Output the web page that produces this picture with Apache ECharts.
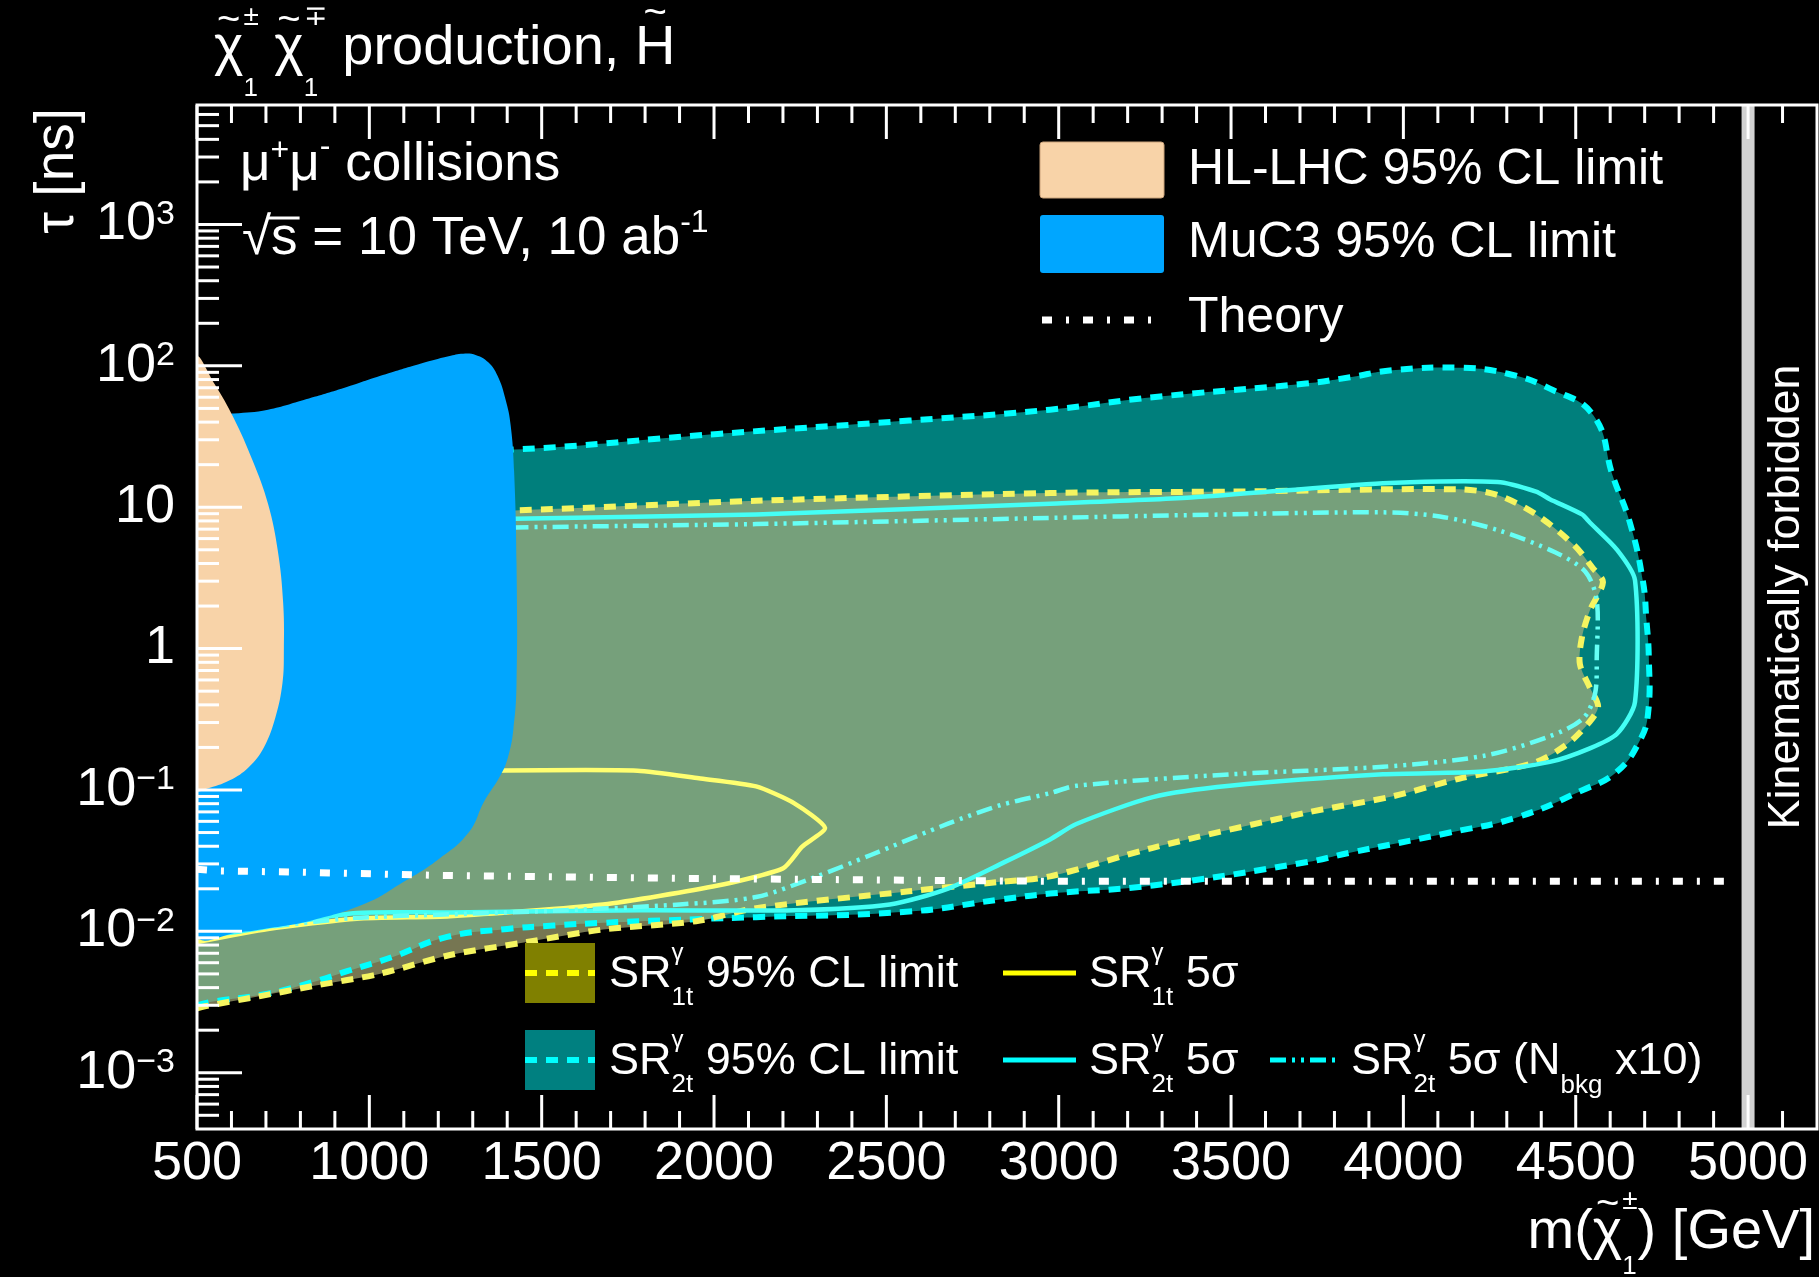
<!DOCTYPE html>
<html>
<head>
<meta charset="utf-8">
<title>chargino lifetime reach</title>
<script src="https://cdn.jsdelivr.net/npm/echarts@6/dist/echarts.min.js"></script>
<style>
  html, body { margin: 0; padding: 0; background: #000; }
  #chart { width: 1819px; height: 1277px; }
</style>
</head>
<body>
<div id="chart"></div>
<script>
var FF = '"Liberation Sans", Arial, Helvetica, sans-serif';
var X_MIN = 500, X_MAX = 5200, Y_MIN = 4e-4, Y_MAX = 7000;

// axis ticks
var xMajor = [500, 1000, 1500, 2000, 2500, 3000, 3500, 4000, 4500, 5000];
var yMajor = [1e-3, 1e-2, 1e-1, 1, 10, 100, 1000];

// contours: [mass GeV, tau ns]
var hlLhc = [[500,112],[550,75],[606,43],[661,21.5],[706,10.6],[734,5],[750,2.1],[752,0.97],
  [748,0.57],[728,0.33],[694,0.2],[650,0.145],[595,0.117],[528,0.102],[500,0.1]];

var muC3 = [[500,44],[606,46],[706,49],[816,58],[928,70],[1039,86],[1150,104],[1230,117],
  [1272,122],[1310,119],[1345,106],[1372,85],[1395,58],[1410,38],[1420,18],[1427,4],
  [1427,0.57],[1418,0.27],[1402,0.17],[1379,0.125],[1333,0.083],[1288,0.05],[1198,0.032],
  [1094,0.022],[990,0.0158],[835,0.012],[706,0.0105],[628,0.0099],[500,0.0098]];

var sr2tLimit = [[500,0.0030],[538,0.00316],[706,0.00363],[835,0.00437],[938,0.00525],
  [1068,0.0066],[1223,0.0091],[1400,0.0104],[1535,0.0110],[1678,0.0115],[1948,0.0122],
  [2122,0.0126],[2566,0.0138],[2830,0.0168],[2975,0.0185],[3273,0.0211],[3717,0.0308],
  [3845,0.036],[4135,0.050],[4329,0.064],[4521,0.100],[4620,0.135],[4686,0.224],[4710,0.35],
  [4712,0.88],[4705,1.6],[4695,3.0],[4657,7.8],[4608,16.5],[4551,44.7],[4425,69],[4303,88],
  [4164,97],[3967,93],[3845,83],[3717,75],[3273,60],[2975,49],[2566,41],[2011,33],
  [1422,25.6],[1000,24.5],[500,24]];

var sr1tLimit = [[500,0.00285],[523,0.00295],[680,0.00347],[835,0.0041],[1029,0.0050],
  [1234,0.0068],[1457,0.0084],[1678,0.0103],[1948,0.0118],[2122,0.0146],[2566,0.0192],
  [2830,0.0224],[2975,0.0245],[3273,0.039],[3717,0.069],[3967,0.09],[4161,0.12],[4376,0.155],
  [4474,0.21],[4541,0.305],[4565,0.39],[4541,0.53],[4512,0.78],[4518,1.2],[4541,1.86],
  [4579,2.95],[4550,3.7],[4495,5.4],[4385,8.9],[4273,12.2],[4161,13.4],[3496,12.9],
  [2975,12.6],[2122,11.1],[1422,9.5],[1000,9.2],[500,9]];

var sr1t5sigma = [[500,0.0084],[706,0.0104],[964,0.0123],[1234,0.0128],[1678,0.0155],
  [2011,0.0211],[2200,0.0279],[2255,0.0396],[2322,0.054],[2233,0.0805],[2122,0.106],
  [1956,0.121],[1778,0.137],[1350,0.137]];

var sr2t5sigma = [[1300,8.2],[1422,8.3],[2122,8.9],[2975,10.6],[3384,11.7],[3941,14.8],
  [4273,15.1],[4385,12.9],[4425,11.4],[4518,8.9],[4541,7.8],[4620,5.0],[4672,3.05],
  [4672,0.42],[4620,0.25],[4541,0.197],[4425,0.158],[4231,0.135],[3941,0.129],[3496,0.107],
  [3273,0.089],[3051,0.0575],[2975,0.0447],[2844,0.031],[2677,0.020],[2510,0.0155],
  [2232,0.0141],[1788,0.0141],[1234,0.0136],[964,0.0135],[770,0.0115],[628,0.0100],[500,0.0092]];

var sr2t5sigmaBkg = [[1300,7.1],[1422,7.2],[2122,7.6],[2975,8.4],[3384,8.8],[3941,9.2],
  [4106,8.6],[4273,6.9],[4440,4.8],[4528,3.5],[4561,2.2],[4561,0.88],[4556,0.48],[4521,0.32],
  [4425,0.24],[4231,0.174],[3941,0.146],[3496,0.129],[3051,0.107],[2975,0.095],[2830,0.078],
  [2677,0.0575],[2455,0.0347],[2289,0.024],[2122,0.0175],[1900,0.0155],[1568,0.0141],
  [1234,0.0132],[950,0.0124],[700,0.0107]];

var theory = [[500,0.0275],[560,0.0268],[800,0.0262],[1200,0.0249],[1900,0.0237],
  [2975,0.0226],[4970,0.0226]];

var xMinor = [], yMinor = [];
for (var v = 600; v <= 5100; v += 100) if (v % 500) xMinor.push(v);
for (var e = -4; e <= 3; e++) {
  for (var k = 2; k <= 9; k++) {
    var t = k * Math.pow(10, e);
    if (t > Y_MIN * 1.0001 && t < Y_MAX * 0.9999) yMinor.push(t);
  }
}

// text measuring
var mctx = document.createElement('canvas').getContext('2d');
function tw(t, s) { mctx.font = s + 'px ' + FF; return mctx.measureText(t).width; }

function txt(t, x, y, s, opt) {
  opt = opt || {};
  return {
    type: 'text', x: x, y: y, z: 100, rotation: opt.rot || 0,
    style: { text: t, fontSize: s, fontFamily: FF, fill: opt.color || '#fff',
      align: opt.align || 'left', verticalAlign: 'middle' }
  };
}

// segs: [text, size, dy, mode]   mode: 'sup' | 'sub' | 'over'
function rich(x, base, segs) {
  var els = [], cx = x, pS = x, pW = 0, supX = null, supW = 0;
  segs.forEach(function (g) {
    var s = g[1], dy = g[2] || 0, mode = g[3], w = tw(g[0], s), px;
    if (mode === 'over') {
      px = pS + (pW - w) / 2;
    } else if (mode === 'sup') {
      px = cx; supX = cx; supW = w;
    } else if (mode === 'sub') {
      px = supX !== null ? supX : cx;
      cx = px + Math.max(w, supX !== null ? supW : 0);
      supX = null; supW = 0;
    } else {
      if (supX !== null) { cx = supX + supW; supX = null; supW = 0; }
      px = cx; pS = px; pW = w; cx = px + w;
    }
    els.push(txt(g[0], px, base + dy - 0.35 * s, s));
  });
  if (supX !== null) cx = supX + supW;
  return { els: els, width: cx - x };
}
function richW(segs) { return rich(0, 0, segs).width; }

function area(name, pts, color, z, smooth) {
  return {
    type: 'custom', name: name, data: pts, z: z, silent: true, clip: true,
    renderItem: function (params, api) {
      if (params.dataIndex !== 0) return null;
      var p = pts.map(function (d) { return api.coord(d); });
      return { type: 'polygon', shape: { points: p, smooth: smooth }, style: { fill: color } };
    }
  };
}
function curve(name, pts, color, width, dash, z, smooth) {
  return {
    type: 'custom', name: name, data: pts, z: z, silent: true, clip: true,
    renderItem: function (params, api) {
      if (params.dataIndex !== 0) return null;
      var p = pts.map(function (d) { return api.coord(d); });
      return { type: 'polyline', shape: { points: p, smooth: smooth },
        style: { stroke: color, lineWidth: width, lineDash: dash, fill: null } };
    }
  };
}

var frameSeries = {
  type: 'custom', name: 'frame', data: [[X_MIN, 1]], z: 20, silent: true, clip: false,
  renderItem: function (params, api) {
    var cs = params.coordSys;
    var L = cs.x, T = cs.y, R = cs.x + cs.width, B = cs.y + cs.height;
    var ch = [];
    function ln(x1, y1, x2, y2, c, w) {
      ch.push({ type: 'line', shape: { x1: x1, y1: y1, x2: x2, y2: y2 },
        style: { stroke: c || '#fff', lineWidth: w || 3 } });
    }
    var xb = api.coord([5000, Y_MIN])[0];
    ln(xb, T, xb, B, '#d2d2d2', 13);
    xMajor.forEach(function (v) { var x = api.coord([v, Y_MIN])[0]; ln(x, B, x, B - 34); ln(x, T, x, T + 34); });
    xMinor.forEach(function (v) { var x = api.coord([v, Y_MIN])[0]; ln(x, B, x, B - 18); ln(x, T, x, T + 18); });
    yMajor.forEach(function (v) { var y = api.coord([X_MIN, v])[1]; ln(L, y, L + 45, y); });
    yMinor.forEach(function (v) { var y = api.coord([X_MIN, v])[1]; ln(L, y, L + 22, y); });
    ch.push({ type: 'rect', shape: { x: L, y: T, width: R - L, height: B - T },
      style: { fill: null, stroke: '#fff', lineWidth: 3 } });
    return { type: 'group', children: ch };
  }
};

// ---- texts ----
var g = [];
function add(r) { g = g.concat(r.els); }

add(rich(214, 68, [['χ',56],['~',40,-33,'over'],['±',28,-41,'sup'],['1',26,30,'sub'],[' ',56],
  ['χ',56],['~',40,-33,'over'],['∓',28,-41,'sup'],['1',26,30,'sub'],[' production, ',56],
  ['H',56],['~',40,-40,'over']]));
add(rich(240, 184, [['μ',53],['+',32,-22,'sup'],['μ',53],['-',32,-26,'sup'],[' collisions',53]]));
add(rich(242, 258, [['√',53],['s',53],[' = 10 TeV, 10 ab',53],['-1',32,-24,'sup']]));
var sqX = 242 + tw('√', 53);
g.push({ type: 'line', z: 100, shape: { x1: sqX - 3, y1: 218, x2: sqX + tw('s', 53) + 2, y2: 218 },
  style: { stroke: '#fff', lineWidth: 3 } });

// axis titles
g.push(txt('τ [ns]', 58, 108, 55, { rot: Math.PI / 2, align: 'right' }));
var xTitle = [['m(',56],['χ',56],['~',40,-33,'over'],['±',28,-41,'sup'],['1',26,24,'sub'],[') [GeV]',56]];
add(rich(1815 - richW(xTitle), 1252, xTitle));
g.push(txt('Kinematically forbidden', 1787, 597, 45, { rot: Math.PI / 2, align: 'center' }));

// top legend
g.push({ type: 'rect', z: 100, shape: { x: 1040, y: 142, width: 124, height: 56, r: 3 },
  style: { fill: '#f8d3a8', stroke: '#c9a27a', lineWidth: 1 } });
g.push({ type: 'rect', z: 100, shape: { x: 1040, y: 215, width: 124, height: 58, r: 3 },
  style: { fill: '#00a6ff' } });
g.push({ type: 'line', z: 100, shape: { x1: 1042, y1: 320, x2: 1154, y2: 320 },
  style: { stroke: '#fff', lineWidth: 7, lineDash: [10, 14, 3, 14] } });
g.push(txt('HL-LHC 95% CL limit', 1188, 187 - 17, 50));
g.push(txt('MuC3 95% CL limit', 1188, 260 - 17, 50));
g.push(txt('Theory', 1188, 335 - 17, 50));

// bottom legend
g.push({ type: 'rect', z: 100, shape: { x: 525, y: 943, width: 70, height: 60 }, style: { fill: '#808000' } });
g.push({ type: 'line', z: 101, shape: { x1: 525, y1: 973, x2: 595, y2: 973 },
  style: { stroke: '#ffff00', lineWidth: 6, lineDash: [12, 9] } });
g.push({ type: 'rect', z: 100, shape: { x: 525, y: 1030, width: 70, height: 60 }, style: { fill: '#008080' } });
g.push({ type: 'line', z: 101, shape: { x1: 525, y1: 1060, x2: 595, y2: 1060 },
  style: { stroke: '#00ffff', lineWidth: 6, lineDash: [12, 9] } });
g.push({ type: 'line', z: 100, shape: { x1: 1003, y1: 973, x2: 1076, y2: 973 },
  style: { stroke: '#ffff00', lineWidth: 5 } });
g.push({ type: 'line', z: 100, shape: { x1: 1003, y1: 1060, x2: 1076, y2: 1060 },
  style: { stroke: '#00ffff', lineWidth: 5 } });
g.push({ type: 'line', z: 100, shape: { x1: 1270, y1: 1060, x2: 1341, y2: 1060 },
  style: { stroke: '#00ffff', lineWidth: 5, lineDash: [16, 6, 3, 6, 3, 6] } });

function sr(tag) { return [['SR',45],['γ',24,-28,'sup'],[tag,26,17,'sub']]; }
add(rich(609, 990, sr('1t').concat([[' 95% CL limit',45]])));
add(rich(1089, 990, sr('1t').concat([[' 5σ',45]])));
add(rich(609, 1077, sr('2t').concat([[' 95% CL limit',45]])));
add(rich(1089, 1077, sr('2t').concat([[' 5σ',45]])));
add(rich(1351, 1077, sr('2t').concat([[' 5σ (N',45],['bkg',26,18,'sub'],[' x10)',45]])));

function yLabel(v) {
  var l = Math.log10(v), n = Math.round(l);
  if (Math.abs(l - n) > 1e-6) return '';
  if (n === 0) return '1';
  if (n === 1) return '10';
  return '10{s|' + (n < 0 ? '−' + (-n) : n) + '}';
}

var option = {
  backgroundColor: '#000',
  animation: false,
  grid: { left: 197, top: 105, width: 1620, height: 1024, show: false },
  xAxis: {
    type: 'value', min: X_MIN, max: X_MAX, interval: 500,
    axisLine: { show: false }, axisTick: { show: false }, splitLine: { show: false },
    axisLabel: { color: '#fff', fontSize: 54, fontFamily: FF, margin: 8, showMaxLabel: false,
      formatter: function (v) { return v > 5000 ? '' : String(v); } }
  },
  yAxis: {
    type: 'log', logBase: 10, min: Y_MIN, max: Y_MAX,
    axisLine: { show: false }, axisTick: { show: false }, splitLine: { show: false },
    axisLabel: { color: '#fff', fontSize: 54, fontFamily: FF, margin: 22, lineHeight: 54,
      showMinLabel: false, showMaxLabel: false, formatter: yLabel,
      rich: { s: { fontSize: 34, fontFamily: FF, color: '#fff', verticalAlign: 'top', lineHeight: 34 } } }
  },
  graphic: { elements: g },
  series: [
    area('SR2t 95% CL limit', sr2tLimit, '#007f7c', 1, 0.45),
    area('SR1t 95% CL limit', sr1tLimit, 'rgba(176,176,122,0.67)', 2, 0.3),
    curve('SR2t 95% CL edge', sr2tLimit.slice(0, -1), '#00ffff', 6, [12, 9], 3, 0.45),
    curve('SR1t 95% CL edge', sr1tLimit.slice(0, -1), '#f5f560', 6, [12, 9], 3, 0.3),
    curve('SR1t 5 sigma', sr1t5sigma, '#ffff70', 4.5, null, 3, 0.2),
    curve('SR2t 5 sigma', sr2t5sigma, '#44fff5', 4.5, null, 3, 0.25),
    curve('SR2t 5 sigma Nbkg x10', sr2t5sigmaBkg, '#66fff5', 4.5, [16, 6, 3, 6, 3, 6], 3, 0.3),
    area('MuC3 95% CL limit', muC3, '#00a6ff', 5, 0.45),
    area('HL-LHC 95% CL limit', hlLhc, '#f8d3a8', 6, 0.4),
    curve('Theory', theory, '#ffffff', 7, [10, 14, 3, 14], 7, 0),
    frameSeries
  ]
};

var myChart = echarts.init(document.getElementById('chart'));
myChart.setOption(option);
</script>
</body>
</html>
